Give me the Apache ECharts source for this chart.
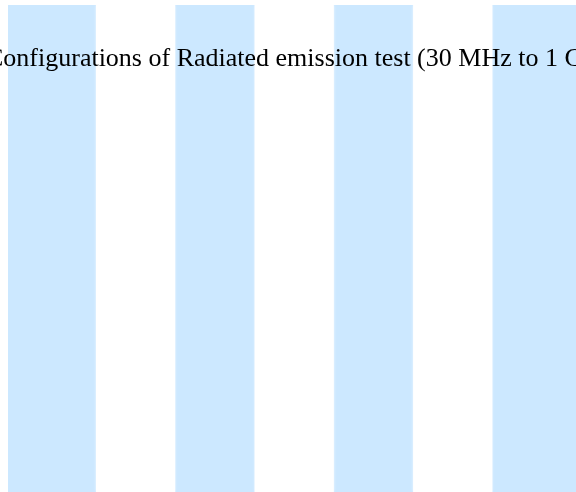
<!DOCTYPE html>
<html>
<head>
<meta charset="utf-8">
<script src="https://cdn.jsdelivr.net/npm/echarts@6/dist/echarts.min.js"></script>
<style>html,body{margin:0;padding:0;background:#fff}#c{width:576px;height:492px}</style>
</head>
<body>
<div id="c"></div>
<script>
const titleText = 'Configurations of Radiated emission test (30 MHz to 1 GHz)';
const columns = [0, 1, 2, 3, 4, 5, 6];
const shaded = [1, 0, 1, 0, 1, 0, 1];
const fullHeight = [1, 1, 1, 1, 1, 1, 1];

const whiteData = columns.filter((c, i) => shaded[i] === 0).map(c => [c, fullHeight[c]]);

const chart = echarts.init(document.getElementById('c'));
chart.setOption({
  animation: false,
  title: {
    text: titleText,
    left: -19,
    top: 41,
    z: 10,
    textStyle: { fontFamily: 'Liberation Serif', fontWeight: 'normal', fontSize: 26, color: '#000' }
  },
  grid: { left: 8, right: 0, top: 5, bottom: 0, show: true, backgroundColor: '#cce8ff', borderWidth: 0 },
  xAxis: { type: 'value', min: -0.609, max: 6.554, show: false },
  yAxis: { type: 'value', min: 0, max: 1, show: false },
  series: [{
    type: 'custom',
    clip: true,
    data: whiteData,
    renderItem: function (params, api) {
      const p0 = api.coord([api.value(0) - 0.5, api.value(1)]);
      const p1 = api.coord([api.value(0) + 0.5, 0]);
      return {
        type: 'rect',
        shape: { x: p0[0], y: p0[1], width: p1[0] - p0[0], height: p1[1] - p0[1] },
        style: { fill: '#ffffff', shadowBlur: 3, shadowColor: 'rgba(255,255,255,0.9)' }
      };
    }
  }]
});
</script>
</body>
</html>
